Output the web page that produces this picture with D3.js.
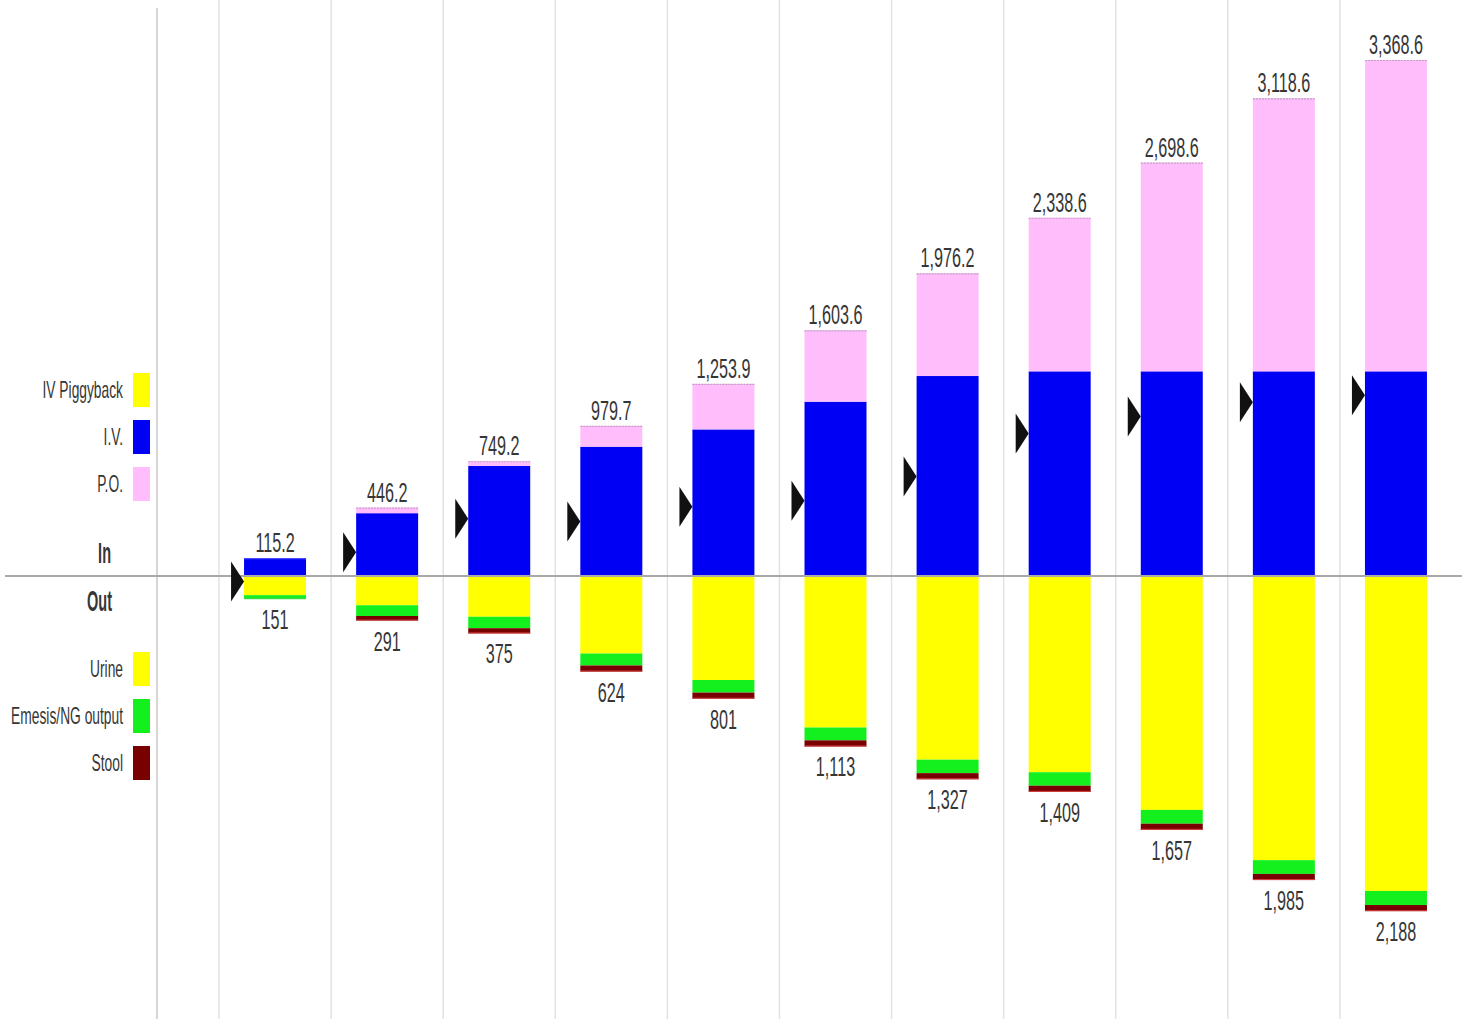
<!DOCTYPE html>
<html>
<head>
<meta charset="utf-8">
<script src="https://cdn.jsdelivr.net/npm/d3@7"></script>
<style>
  html, body { margin: 0; padding: 0; background: #ffffff; }
  svg { display: block; }
  text { font-family: "Liberation Sans", Arial, sans-serif; fill: #363636; }
</style>
</head>
<body>
<svg id="chart" width="1468" height="1019"></svg>
<script>
// Hourly intake / output periods
const periods = ["1", "2", "3", "4", "5", "6", "7", "8", "9", "10", "11"];

// Intake (mL)
const ivPiggyback = [0, 0, 0, 0, 0, 0, 0, 0, 0, 0, 0];
const iv          = [115.2, 410, 718, 844, 957, 1138, 1305.5, 1336, 1336, 1336, 1336];
const po          = [0, 36.2, 31.2, 135.7, 296.9, 465.6, 670.7, 1002.6, 1362.6, 1782.6, 2032.6];

// Output (mL)
const urine  = [125, 191, 266, 506, 679, 989, 1199, 1281, 1527, 1855, 2056];
const emesis = [26, 70, 75, 78, 82, 84, 88, 88, 90, 90, 92];
const stool  = [0, 30, 34, 40, 40, 40, 40, 40, 40, 40, 40];

const inSeries = [
  { name: "IV Piggyback", values: ivPiggyback, color: "#ffff00" },
  { name: "I.V.",         values: iv,          color: "#0000f4" },
  { name: "P.O.",         values: po,          color: "#ffbefb" }
];
const outSeries = [
  { name: "Urine",            values: urine,  color: "#ffff00" },
  { name: "Emesis/NG output", values: emesis, color: "#14f01e" },
  { name: "Stool",            values: stool,  color: "#780000" }
];

const svg = d3.select("#chart");
const W = 1468, H = 1019;

const x = d3.scaleBand()
  .domain(periods)
  .range([219, 1452])
  .paddingInner(0.447)
  .paddingOuter(0.2235);

const maxIn = d3.max(periods, (p, i) => d3.sum(inSeries, s => s.values[i]));
const y = d3.scaleLinear().domain([0, maxIn]).range([576, 60]);

// column separators
const step = x.step();
const gap = (step - x.bandwidth()) / 2;
const sepX = periods.map(p => x(p) - gap);
svg.append("g").selectAll("line").data(sepX).join("line")
  .attr("x1", d => d).attr("x2", d => d)
  .attr("y1", 0).attr("y2", H)
  .attr("stroke", "#e2e2e2").attr("stroke-width", 1.5);

// left frame line
svg.append("line")
  .attr("x1", 157).attr("x2", 157).attr("y1", 8).attr("y2", H)
  .attr("stroke", "#c8c8c8").attr("stroke-width", 1.5);

// stacked intake bars (above zero) and output bars (below zero)
const bars = svg.append("g");
periods.forEach((p, i) => {
  let acc = 0;
  inSeries.forEach(s => {
    const v = s.values[i];
    if (v > 0) {
      bars.append("rect")
        .attr("x", x(p)).attr("width", x.bandwidth())
        .attr("y", y(acc + v)).attr("height", y(acc) - y(acc + v))
        .attr("fill", s.color);
    }
    acc += v;
  });
  let accOut = 0;
  outSeries.forEach(s => {
    const v = s.values[i];
    if (v > 0) {
      bars.append("rect")
        .attr("x", x(p)).attr("width", x.bandwidth())
        .attr("y", y(-accOut)).attr("height", y(-(accOut + v)) - y(-accOut))
        .attr("fill", s.color);
    }
    accOut += v;
  });
});

const totalsIn = periods.map((p, i) => d3.sum(inSeries, s => s.values[i]));
const totalsOut = periods.map((p, i) => d3.sum(outSeries, s => s.values[i]));

// thin edges at the ends of each stack
svg.append("g").selectAll("line").data(periods).join("line")
  .attr("x1", p => x(p)).attr("x2", p => x(p) + x.bandwidth())
  .attr("y1", (p, i) => y(totalsIn[i]) + 0.5).attr("y2", (p, i) => y(totalsIn[i]) + 0.5)
  .attr("stroke", (p, i) => po[i] > 0 ? "#c49ac4" : "#3a3aff")
  .attr("stroke-dasharray", "2,1").attr("stroke-width", 1.2);
svg.append("g").selectAll("line").data(periods).join("line")
  .attr("x1", p => x(p)).attr("x2", p => x(p) + x.bandwidth())
  .attr("y1", (p, i) => y(-totalsOut[i]) - 0.5).attr("y2", (p, i) => y(-totalsOut[i]) - 0.5)
  .attr("stroke", (p, i) => stool[i] > 0 ? "#d84040" : "#4bd24b").attr("stroke-width", 1);

// zero line
svg.append("line")
  .attr("x1", 5).attr("x2", 1462).attr("y1", y(0)).attr("y2", y(0))
  .attr("stroke", "#a9a9a9").attr("stroke-width", 2);

// balance markers (intake minus output)
svg.append("g").selectAll("path").data(periods).join("path")
  .attr("d", (p, i) => {
    const bx = x(p), by = y(totalsIn[i] - totalsOut[i]);
    return `M${bx - 13},${by - 20} L${bx},${by} L${bx - 13},${by + 20} Z`;
  })
  .attr("fill", "#111");

// value labels
const fmtIn = d3.format(",.1f");
const fmtOut = d3.format(",");
const lbl = svg.append("g");
periods.forEach((p, i) => {
  const cx = x(p) + x.bandwidth() / 2;
  lbl.append("text")
    .attr("transform", `translate(${cx},${y(totalsIn[i]) - 6}) scale(0.6,1)`)
    .attr("text-anchor", "middle").attr("font-size", 27)
    .text(fmtIn(totalsIn[i]));
  lbl.append("text")
    .attr("transform", `translate(${cx},${y(-totalsOut[i]) + 30}) scale(0.6,1)`)
    .attr("text-anchor", "middle").attr("font-size", 27)
    .text(fmtOut(totalsOut[i]));
});

// legend
const leg = svg.append("g");
function legendItem(name, color, top) {
  leg.append("rect").attr("x", 133).attr("y", top).attr("width", 17).attr("height", 34)
    .attr("fill", color);
  leg.append("text")
    .attr("transform", `translate(123,${top + 25}) scale(0.6,1)`)
    .attr("text-anchor", "end").attr("font-size", 23)
    .text(name);
}
inSeries.forEach((s, k) => legendItem(s.name, s.color, 373 + k * 47));
outSeries.forEach((s, k) => legendItem(s.name, s.color, 652 + k * 47));

leg.append("text")
  .attr("transform", "translate(111,563) scale(0.5,1)")
  .attr("text-anchor", "end").attr("font-size", 29).attr("font-weight", "bold")
  .attr("fill", "#2e2e2e").text("In");
leg.append("text")
  .attr("transform", "translate(112,611) scale(0.5,1)")
  .attr("text-anchor", "end").attr("font-size", 29).attr("font-weight", "bold")
  .attr("fill", "#2e2e2e").text("Out");
</script>
</body>
</html>
